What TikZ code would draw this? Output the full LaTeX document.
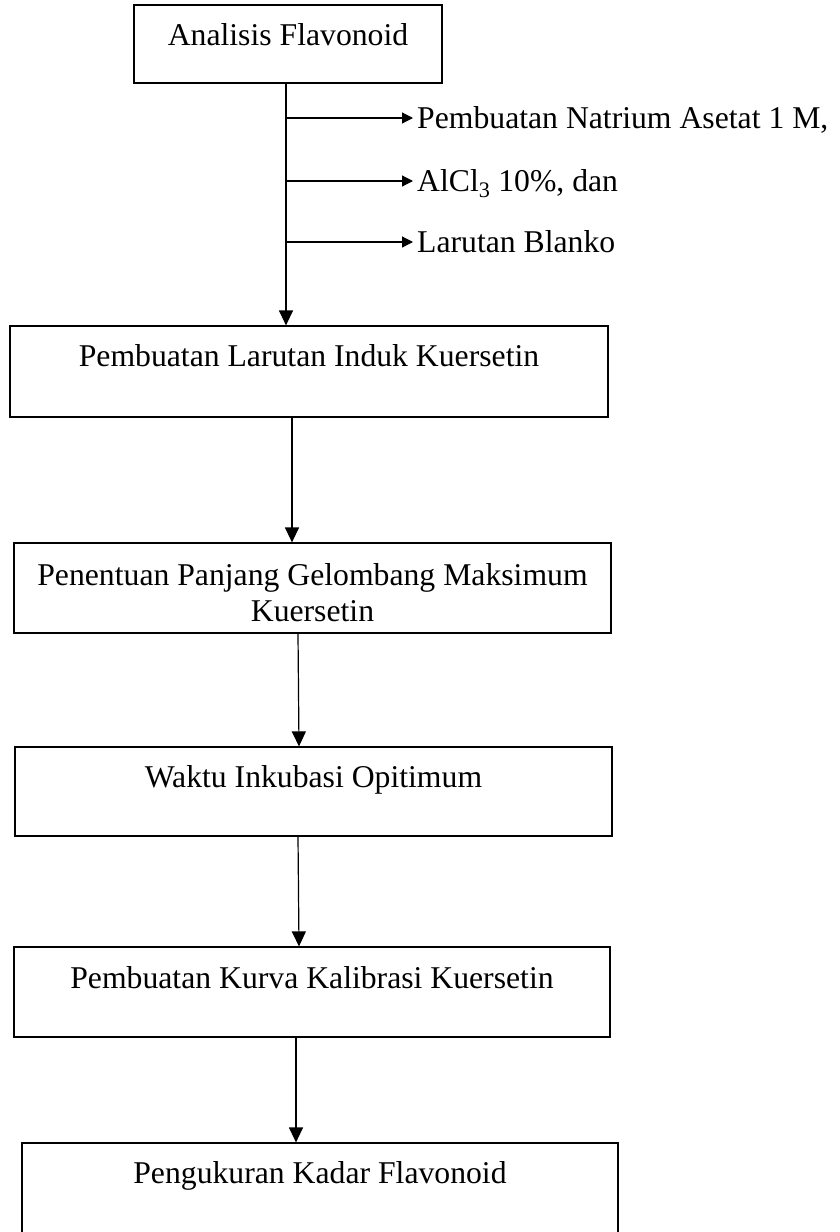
\documentclass[tikz,border=0pt]{standalone}
\usepackage{fontspec}
\setmainfont{Liberation Serif}
\usetikzlibrary{arrows.meta}
\begin{document}
\begin{tikzpicture}[x=1pt,y=-1pt,
  every node/.style={font=\fontsize{31.7}{36}\selectfont},
  box/.style={draw, line width=1.2pt, rectangle, inner sep=0pt},
  lbl/.style={inner sep=0pt, anchor=base},
  side/.style={inner xsep=4pt, inner ysep=0pt, anchor=base west},
  arr/.style={line width=1.2pt, -{Triangle[length=15pt,width=14pt]}},
  sarr/.style={line width=1.2pt, -{Triangle[length=11pt,width=11pt]}}]
\useasboundingbox (0,0) rectangle (840,1232);
\clip (0,0) rectangle (840,1232);
% boxes
\node[box, minimum width=308, minimum height=78] (b1) at (288,44) {};
\node[box, minimum width=598, minimum height=91] (b2) at (309,371.5) {};
\node[box, minimum width=597, minimum height=90] (b3) at (312.5,588) {};
\node[box, minimum width=597, minimum height=89] (b4) at (313.5,791.5) {};
\node[box, minimum width=596, minimum height=90] (b5) at (312,992) {};
\node[box, minimum width=596, minimum height=91] (b6) at (320,1188.5) {};
% box texts
\node[lbl] (t1) at (288,45) {Analisis Flavonoid};
\node[lbl] (t2) at (309,366) {Pembuatan Larutan Induk Kuersetin};
\node[lbl] (t3) at (312.5,585) {\begin{tabular}[t]{@{}c@{}}Penentuan Panjang Gelombang Maksimum\\Kuersetin\end{tabular}};
\node[lbl] (t4) at (313.5,787) {Waktu Inkubasi Opitimum};
\node[lbl] (t5) at (312,988) {Pembuatan Kurva Kalibrasi Kuersetin};
\node[lbl] (t6) at (320,1183) {Pengukuran Kadar Flavonoid};
% side texts
\node[side] (s1) at (413,128) {Pembuatan Natrium Asetat 1 M,};
\node[side] (s2) at (413,191) {AlCl\textsubscript{3} 10\%, dan};
\node[side] (s3) at (413,252) {Larutan Blanko};
% junctions on trunk
\coordinate (j1) at (286,118);
\coordinate (j2) at (286,181);
\coordinate (j3) at (286,242);
% connectors
\draw[arr] ([xshift=-2pt]b1.south) -- ([xshift=-23pt]b2.north);
\draw[sarr] (j1) -- (s1.west |- j1);
\draw[sarr] (j2) -- (s2.west |- j2);
\draw[sarr] (j3) -- (s3.west |- j3);
\draw[arr] ([xshift=-17pt]b2.south) -- ([xshift=-20.5pt]b3.north);
\draw[arr] ([xshift=-14.5pt]b3.south) -- ([xshift=-14.5pt]b4.north);
\draw[arr] ([xshift=-15.5pt]b4.south) -- ([xshift=-13pt]b5.north);
\draw[arr] ([xshift=-16pt]b5.south) -- ([xshift=-24pt]b6.north);
\end{tikzpicture}
\end{document}
